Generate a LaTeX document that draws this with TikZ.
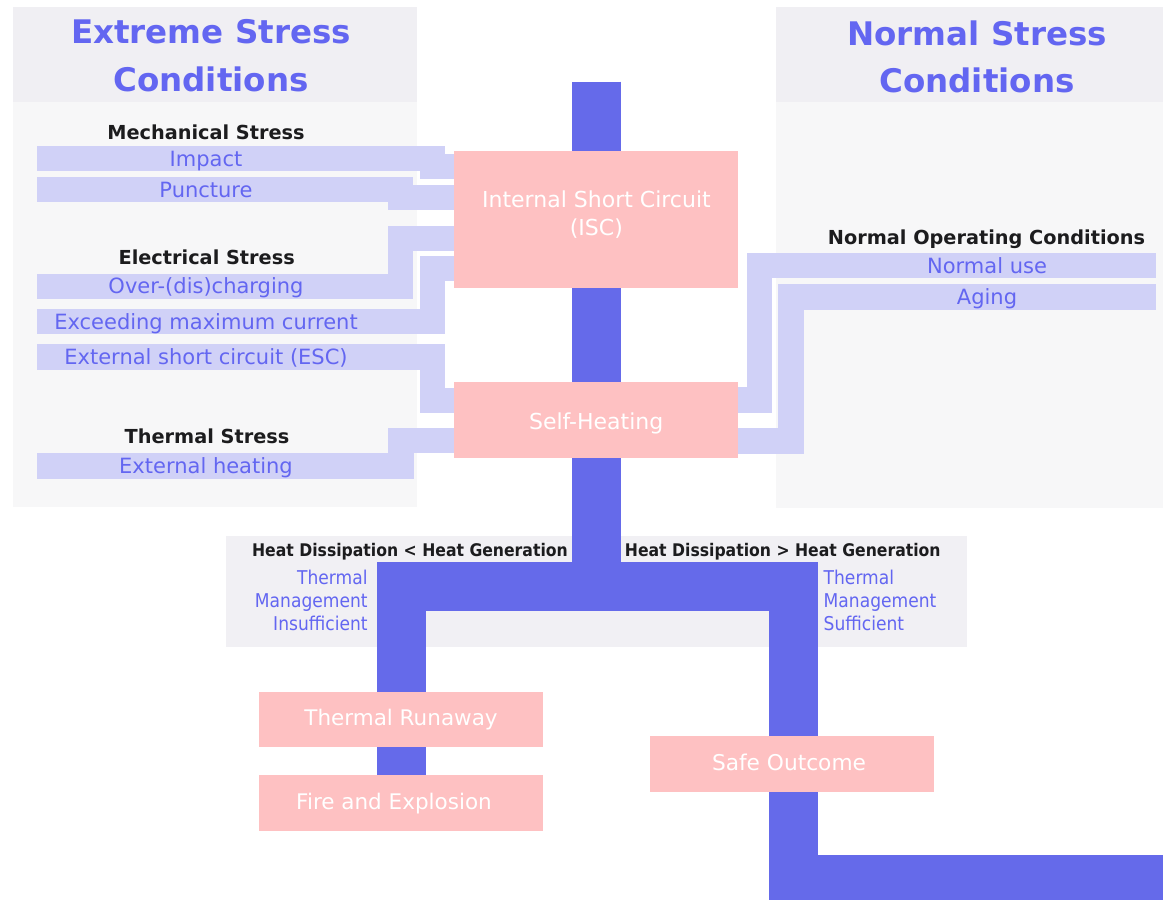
\documentclass[tikz,border=0pt]{standalone}
\usepackage{fontspec}
\setmainfont{DejaVu Sans}
\newfontfamily\condfont[FakeStretch=0.9]{DejaVu Sans}
\definecolor{lband}{RGB}{208,209,247}
\definecolor{tblue}{RGB}{101,106,234}
\definecolor{lbl}{RGB}{99,102,241}
\definecolor{pinkbox}{RGB}{254,193,194}
\definecolor{hdr}{RGB}{240,239,243}
\definecolor{pbody}{RGB}{247,247,248}
\definecolor{heatbg}{RGB}{241,240,244}
\definecolor{ink}{RGB}{28,28,30}
\pgfdeclarelayer{panel}
\pgfdeclarelayer{wire}
\pgfsetlayers{panel,wire,main}
\tikzset{
  band/.style={fill=lband, minimum width=338pt, minimum height=25.5pt, inner sep=0pt, outer sep=0pt,
    text=lbl, font=\fontsize{21}{25}\selectfont, text height=15.3pt, text depth=0pt},
  conn/.style={draw=lband, line width=25.5pt, line join=miter},
  trunk/.style={draw=tblue, line width=49pt, line join=miter},
  pbox/.style={fill=pinkbox, text=white, inner sep=0pt, outer sep=0pt, align=center,
    font=\fontsize{22}{28.3}\selectfont},
  pline/.style={pbox, text depth=0pt, text height=#1},
  ptext/.style={inner sep=0pt, text=white, align=center, font=\fontsize{22}{28.3}\selectfont},
  head/.style={inner sep=0pt, text=lbl, align=center, font=\bfseries\fontsize{32.5}{47.6}\selectfont},
  subhead/.style={inner sep=0pt, anchor=base, text=ink, font=\bfseries\fontsize{19.3}{23}\selectfont},
  heathead/.style={inner sep=0pt, text=ink, font=\condfont\bfseries\fontsize{17.4}{21}\selectfont},
  tm/.style={inner sep=0pt, text=lbl, font=\condfont\fontsize{19}{23.3}\selectfont}
}
\begin{document}
\begin{tikzpicture}[x=1pt,y=-1pt]
\useasboundingbox (0,0) rectangle (1163,900);

% pink boxes
\node[pbox, minimum width=284.3pt, minimum height=136.7pt] (isc) at (596.2,219.3) {};
\node[ptext, anchor=north] (isctext) at (596.4,190.2) {Internal Short Circuit\\(ISC)};
\node[pline=19pt, minimum width=284.3pt, minimum height=76pt] (sh) at (596.2,419.7) {Self-Heating};
\node[pline=12pt, minimum width=284.2pt, minimum height=55.6pt, font=\fontsize{21.5}{26}\selectfont] (tr) at (401,719.5) {Thermal Runaway};
\node[pline=12.5pt, minimum width=284.2pt, minimum height=55.7pt, font=\fontsize{21.5}{26}\selectfont] (fe) at (401,802.9) {Fire and Explosion\hspace*{14pt}};
\node[pline=12pt, minimum width=284.2pt, minimum height=56pt, font=\fontsize{21.7}{26}\selectfont] (so) at (792,764) {Safe Outcome\hspace*{6pt}};

% label bands
\node[band] (impact) at (206,158.5) {Impact};
\node[band] (puncture) at (206,189.5) {Puncture};
\node[band] (overdis) at (206,286.3) {Over-(dis)charging};
\node[band] (exceed) at (206,321.5) {Exceeding maximum current};
\node[band] (esc) at (206,357) {External short circuit (ESC)};
\node[band] (extheat) at (206,466) {External heating};
\node[band] (normuse) at (987,265.5) {Normal use};
\node[band] (aging) at (987,297) {Aging};

% headings
\node[head, anchor=north] (hx) at (211,19.2) {Extreme Stress\\Conditions};
\node[head, anchor=north] (hn) at (977,20.3) {Normal Stress\\Conditions};
\node[subhead] (mech) at (206,139.3) {Mechanical Stress};
\node[subhead] (elec) at (206.7,264) {Electrical Stress};
\node[subhead] (therm) at (207,443) {Thermal Stress};
\node[subhead] (noc) at (986.5,244) {Normal Operating Conditions};

\node[heathead, anchor=base east] (hlt) at (568,556) {Heat Dissipation < Heat Generation};
\node[heathead, anchor=base west] (hgt) at (624.7,556) {Heat Dissipation > Heat Generation};
\node[tm, anchor=north east, align=right] (tmi) at (367.8,569.6) {Thermal\\Management\\Insufficient};
\node[tm, anchor=north west, align=left] (tms) at (823.5,569.6) {Thermal\\Management\\Sufficient};

\coordinate (top) at (596.3,81.7);
\coordinate (split) at (596.3,586.2);
\coordinate (rsplit) at (793,586.2);
\coordinate (rbend) at (793,879.5);
\coordinate (exit) at (1180,879.5);

\begin{pgfonlayer}{panel}
  \fill[white] (0,0) rectangle (1163,900);
  \fill[pbody] (12.7,6.7) rectangle (416.7,506.7);
  \fill[hdr] (12.7,6.7) rectangle (416.7,101.7);
  \fill[pbody] (776,7.3) rectangle (1163,508);
  \fill[hdr] (776,7.3) rectangle (1163,102);
  \fill[heatbg] (226,536) rectangle (967,647);
\end{pgfonlayer}

\begin{pgfonlayer}{wire}
  \draw[conn] (impact.east) -- (432.5,158.5) |- (isc.west |- 0,166.5);
  \draw[conn] (puncture.east) -- (400.5,189.5) |- (isc.west |- 0,197.5);
  \draw[conn] (overdis.east) -- (400.5,286.3) |- (isc.west |- 0,238.5);
  \draw[conn] (exceed.east) -- (432.5,321.5) |- (isc.west |- 0,268.5);
  \draw[conn] (esc.east) -- (432.5,357) |- (sh.west |- 0,400.5);
  \draw[conn] (extheat.east) -- (401,466) |- (sh.west |- 0,440.5);
  \draw[conn] (normuse.west) -- (759.7,265.5) |- (sh.east |- 0,400);
  \draw[conn] (aging.west) -- (791,297) |- (sh.east |- 0,441);

  \draw[trunk] (top) -- (split);
  \draw[trunk] (fe.center) -- (fe.center |- split) -- (rsplit) -- (rbend) -- (exit);
\end{pgfonlayer}
\end{tikzpicture}
\end{document}
